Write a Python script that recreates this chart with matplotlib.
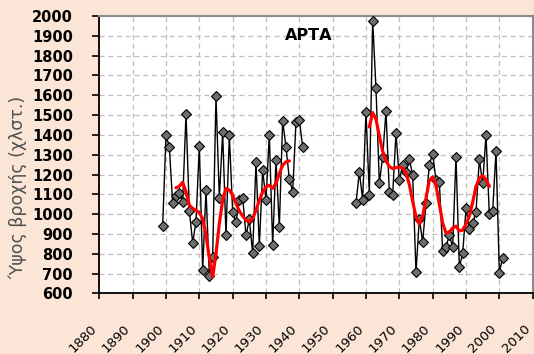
import numpy as np
import matplotlib
matplotlib.use("Agg")
import matplotlib.pyplot as plt

# annual rainfall, first record period
years1 = list(range(1899, 1942))
rain1 = [940, 1398, 1340, 1054, 1091, 1107, 1062, 1504, 1017, 857,
         961, 1345, 718, 1122, 690, 782, 1595, 1080, 1412, 893,
         1398, 1011, 960, 1071, 1084, 893, 974, 803, 1263, 838,
         1222, 1071, 1398, 845, 1274, 935, 1471, 1339, 1178, 1112,
         1466, 1474, 1339]

# second record period
years2 = list(range(1957, 2002))
rain2 = [1054, 1213, 1074, 1516, 1099, 1975, 1634, 1158, 1289, 1520,
         1110, 1098, 1410, 1171, 1247, 1215, 1276, 1199, 706, 978,
         860, 1054, 1250, 1306, 1171, 1163, 815, 835, 894, 835,
         1289, 734, 802, 1029, 925, 953, 1012, 1276, 1155, 1398,
         1000, 1017, 1318, 705, 781]

# moving average (red curve)
ma_years1 = list(range(1903, 1938))
ma1 = [1133, 1141, 1161, 1112, 1045, 1029, 1020, 1007, 978, 894,
       780, 684, 800, 953, 1071, 1130, 1121, 1096, 1054, 1017,
       990, 970, 961, 978, 1020, 1071, 1112, 1138, 1146, 1130,
       1155, 1205, 1247, 1264, 1269]

ma_years2 = list(range(1961, 1998))
ma2 = [1440, 1512, 1480, 1395, 1318, 1268, 1240, 1230, 1235, 1238,
       1232, 1208, 1150, 1065, 985, 950, 990, 1080, 1170, 1188,
       1145, 1050, 955, 905, 910, 930, 940, 915, 920, 950,
       990, 1060, 1140, 1180, 1195, 1175, 1140]

bg = "#fbe5d6"

fig = plt.figure(figsize=(5.34, 3.54), dpi=100, facecolor=bg)
ax = fig.add_axes([0.186, 0.171, 0.8115, 0.784])
ax.set_facecolor("white")

for yrs, vals in [(years1, rain1), (years2, rain2)]:
    ax.plot(yrs, vals, color="black", lw=1.0, marker="D", ms=5,
            mfc="#6e6e6e", mec="black", mew=0.8, zorder=3)

for yrs, vals in [(ma_years1, ma1), (ma_years2, ma2)]:
    ax.plot(yrs, vals, color="red", lw=2.3, solid_joinstyle="round",
            solid_capstyle="round", zorder=4)

ax.set_xlim(1880, 2010)
ax.set_ylim(600, 2000)
ax.set_xticks(np.arange(1880, 2011, 10))
ax.set_yticks(np.arange(600, 2001, 100))
ax.grid(True, color="#bfbfbf", ls=(0, (4, 3)), lw=0.9)
ax.set_axisbelow(True)

for lab in ax.get_yticklabels():
    lab.set_fontweight("bold")
ax.tick_params(axis="y", labelsize=10.5, direction="out", length=5, width=1.2, pad=14)
ax.tick_params(axis="x", labelsize=9.5, direction="out", length=4, width=1.2, pad=23,
               labelrotation=45)
for lab in ax.get_xticklabels():
    lab.set_ha("right")
    lab.set_va("bottom")
    lab.set_rotation_mode("anchor")

for s in ["left", "bottom"]:
    ax.spines[s].set_color("black")
    ax.spines[s].set_linewidth(1.3)
for s in ["top", "right"]:
    ax.spines[s].set_color("#8c8c8c")
    ax.spines[s].set_linewidth(1.5)

ax.text(0.484, 0.928, "ΑΡΤΑ", transform=ax.transAxes, ha="center", va="center",
        fontsize=11.5, fontweight="bold")
fig.text(0.034, 0.471, "Ύψος βροχής (χλστ.)", rotation=90, ha="center", va="center",
         fontsize=12.5, color="#505050")

fig.savefig("out.png", dpi=100, facecolor=bg)
